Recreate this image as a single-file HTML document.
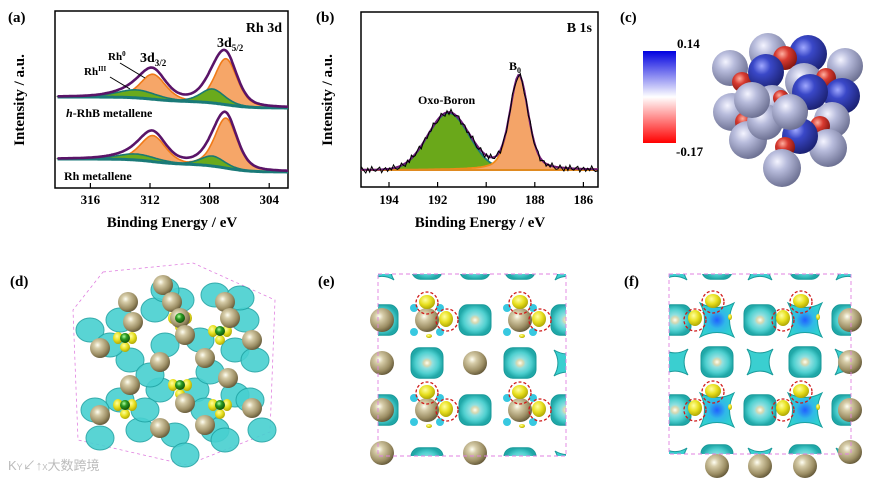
<!DOCTYPE html>
<html><head><meta charset="utf-8"><style>
html,body{margin:0;padding:0;background:#fff}
svg{display:block;font-family:"Liberation Serif",serif}
.b{font-weight:bold}
</style></head><body>
<svg id="s" width="872" height="479" viewBox="0 0 872 479" xmlns="http://www.w3.org/2000/svg">
<defs>
<radialGradient id="tan" cx="0.38" cy="0.35" r="0.7"><stop offset="0" stop-color="#fffff4"/><stop offset="0.25" stop-color="#d6cca8"/><stop offset="0.7" stop-color="#9c8e64"/><stop offset="1" stop-color="#5e5334"/></radialGradient>
<radialGradient id="lav" cx="0.38" cy="0.33" r="0.7"><stop offset="0" stop-color="#f4f4ff"/><stop offset="0.35" stop-color="#b8bcdc"/><stop offset="1" stop-color="#6a6e90"/></radialGradient>
<radialGradient id="blu" cx="0.38" cy="0.33" r="0.7"><stop offset="0" stop-color="#a0a8ff"/><stop offset="0.35" stop-color="#3a48c8"/><stop offset="1" stop-color="#1a2070"/></radialGradient>
<radialGradient id="red" cx="0.38" cy="0.33" r="0.7"><stop offset="0" stop-color="#ffb0a0"/><stop offset="0.4" stop-color="#d83a30"/><stop offset="1" stop-color="#801410"/></radialGradient>
<radialGradient id="grn" cx="0.4" cy="0.35" r="0.7"><stop offset="0" stop-color="#b0ffa0"/><stop offset="0.4" stop-color="#2a9a20"/><stop offset="1" stop-color="#0c4a08"/></radialGradient>
<radialGradient id="yel" cx="0.4" cy="0.35" r="0.7"><stop offset="0" stop-color="#ffffa0"/><stop offset="0.5" stop-color="#e8e020"/><stop offset="1" stop-color="#a8a000"/></radialGradient>
<radialGradient id="ring" cx="0.5" cy="0.5" r="0.5"><stop offset="0" stop-color="#fffff0"/><stop offset="0.2" stop-color="#d8d8b0"/><stop offset="0.35" stop-color="#90e0e0"/><stop offset="0.7" stop-color="#50d0d0"/><stop offset="1" stop-color="#20a8a8"/></radialGradient>
<radialGradient id="star" cx="0.5" cy="0.5" r="0.5"><stop offset="0" stop-color="#2060ff"/><stop offset="0.5" stop-color="#30b8e8"/><stop offset="1" stop-color="#30d0d0"/></radialGradient>
<linearGradient id="cbar" x1="0" y1="0" x2="0" y2="1"><stop offset="0" stop-color="#0000e0"/><stop offset="0.5" stop-color="#ffffff"/><stop offset="1" stop-color="#ff0000"/></linearGradient>
<clipPath id="clipE"><rect x="378" y="274" width="188" height="182"/></clipPath>
<clipPath id="clipF"><rect x="669" y="274" width="182" height="180"/></clipPath>
<clipPath id="clipA"><rect x="55" y="11" width="233" height="177"/></clipPath>
<clipPath id="clipB"><rect x="361" y="12" width="237" height="175"/></clipPath>
</defs>

<text x="8" y="22" class="b" font-size="15">(a)</text>
<text x="316" y="22" class="b" font-size="15">(b)</text>
<text x="620" y="22" class="b" font-size="15">(c)</text>
<text x="10" y="286" class="b" font-size="15">(d)</text>
<text x="318" y="286" class="b" font-size="15">(e)</text>
<text x="624" y="286" class="b" font-size="15">(f)</text>

<g id="pa">
<rect x="55" y="11" width="233" height="177" fill="none" stroke="#000" stroke-width="1.5"/>
<g id="paTicks"></g>
<g id="paPlot" clip-path="url(#clipA)"></g>
<text x="172" y="227" text-anchor="middle" class="b" font-size="15">Binding Energy / eV</text>
<text transform="translate(24,100) rotate(-90)" text-anchor="middle" class="b" font-size="15">Intensity / a.u.</text>
<text x="282" y="32" text-anchor="end" class="b" font-size="14">Rh 3d</text>
<text x="217" y="47" class="b" font-size="14">3d<tspan font-size="9" dy="4">5/2</tspan></text>
<text x="140" y="62" class="b" font-size="14">3d<tspan font-size="9" dy="4">3/2</tspan></text>
<text x="108" y="60" class="b" font-size="11">Rh<tspan font-size="7" dy="-4">0</tspan></text>
<text x="84" y="75" class="b" font-size="11">Rh<tspan font-size="7" dy="-4">III</tspan></text>
<line x1="120" y1="63" x2="145" y2="78" stroke="#000" stroke-width="1"/>
<line x1="110" y1="77" x2="130" y2="89" stroke="#000" stroke-width="1"/>
<text x="66" y="117" class="b" font-size="12"><tspan font-style="italic">h</tspan>-RhB metallene</text>
<text x="64" y="180" class="b" font-size="12">Rh metallene</text>
</g>

<g id="pb">
<rect x="361" y="12" width="237" height="175" fill="none" stroke="#000" stroke-width="1.5"/>
<g id="pbTicks"></g>
<g id="pbPlot" clip-path="url(#clipB)"></g>
<text x="480" y="227" text-anchor="middle" class="b" font-size="15">Binding Energy / eV</text>
<text transform="translate(332,100) rotate(-90)" text-anchor="middle" class="b" font-size="15">Intensity / a.u.</text>
<text x="592" y="32" text-anchor="end" class="b" font-size="14">B 1s</text>
<text x="418" y="104" class="b" font-size="12">Oxo-Boron</text>
<text x="509" y="70" class="b" font-size="12">B<tspan font-size="8" dy="3">0</tspan></text>
</g>

<g>
<rect x="643" y="51" width="33" height="92" fill="url(#cbar)"/>
<text x="677" y="48" class="b" font-size="13">0.14</text>
<text x="676" y="156" class="b" font-size="13">-0.17</text>
<g id="cluster"></g>
</g>

<g>
<polygon points="103,272 193,263 275,300 270,432 187,465 78,440 73,310" fill="none" stroke="#e080e0" stroke-width="0.8" stroke-dasharray="3,3"/>
<g id="pd"></g>
<text x="8" y="470" font-size="13" fill="#bbb" font-family="Liberation Sans,'Noto Sans CJK SC',sans-serif">K<tspan font-size="9">Y</tspan>↙↑<tspan font-size="8">X</tspan>大数跨境</text>
</g>

<g>
<g id="pe"></g>
<rect x="378" y="274" width="188" height="182" fill="none" stroke="#e080e0" stroke-width="0.9" stroke-dasharray="4,3"/>
</g>
<g>
<g id="pf"></g>
<rect x="669" y="274" width="182" height="180" fill="none" stroke="#e080e0" stroke-width="0.9" stroke-dasharray="4,3"/>
</g>
</svg>
<script>
const aTicks = [316, 312, 308, 304];
const aCenters = [306.9, 311.8, 307.8, 312.9];
const aWidths = [0.75, 0.85, 0.8, 1.3];
const aTopHeights = [46, 25, 14, 8];
const aBotHeights = [50, 26, 10, 6];
const aTopBase = [97, 108];
const aBotBase = [159, 172];
const bTicks = [194, 192, 190, 188, 186];
const bCenters = [191.55, 188.65];
const bWidths = [0.85, 0.38];
const bHeights = [57, 95];
const bBase = [170];
const bNoise = [2,-3,1,4,-2,3,-4,1,2,-1,-3,4,0,-2,3,-1,2,-4,1,3];

const S = document.getElementById('s');
const NS = 'http://www.w3.org/2000/svg';
function mk(tag, attrs, parent){const e=document.createElementNS(NS,tag);for(const k in attrs)e.setAttribute(k,attrs[k]);(parent||S).appendChild(e);return e;}

const ax = E => 150 + (312 - E) * 14.9;
const aE0 = 318.2, aE1 = 302.3;
const pa = document.getElementById('paPlot'), pat = document.getElementById('paTicks');
aTicks.forEach(t=>{
  const l=mk('line',{x1:ax(t),x2:ax(t),y1:188,y2:183,stroke:'#000','stroke-width':1.2},pat);
  
  const tx=mk('text',{x:ax(t),y:204,'text-anchor':'middle','font-size':13,'font-weight':'bold'},pat);
  tx.textContent=t;
  
});
function gau(E,c,w){return Math.exp(-0.5*((E-c)/w)**2);}
function voigt(E,c,w){return 0.6*gau(E,c,w)+0.4/(1+((E-c)/(w*1.2))**2);}
function sig(x){return 1/(1+Math.exp(-x));}
function drawA(heights, base){
  const N=240, pts=[];
  for(let i=0;i<=N;i++){pts.push(aE0+(aE1-aE0)*i/N);}
  const by = E => {
    const f = 0.6*sig((E-306.9)/0.8) + 0.4*sig((E-311.8)/0.8);
    return base[1] - (base[1]-base[0])*f;
  };
  const comp = (k,E)=>heights[k]*voigt(E,aCenters[k],aWidths[k]);
  [[0,1,'#f6a668','#f07a18','rh0-component'],[2,3,'#6aaa1c','#1a7a70','rhiii-component']].forEach(([k1,k2,fill,st,nm])=>{
    [k1,k2].forEach(k=>{
      let d='M'+ax(aE0)+','+by(aE0);
      pts.forEach(E=>{d+=' L'+ax(E).toFixed(1)+','+(by(E)-comp(k,E)).toFixed(1);});
      d+=' L'+ax(aE1)+','+by(aE1);
      pts.slice().reverse().forEach(E=>{d+=' L'+ax(E).toFixed(1)+','+by(E).toFixed(1);});
      const p=mk('path',{d:d+'Z',fill:fill,stroke:st,'stroke-width':1.6},pa);
      
    });
  });
  let d='',bl='';
  pts.forEach((E,i)=>{let s=0;for(let k=0;k<4;k++)s+=comp(k,E);
    d+=(i?' L':'M')+ax(E).toFixed(1)+','+(by(E)-s).toFixed(1);
    bl+=(i?' L':'M')+ax(E).toFixed(1)+','+by(E).toFixed(1);});
  const b=mk('path',{d:bl,fill:'none',stroke:'#1a7a78','stroke-width':3},pa);
  
  const e=mk('path',{d:d,fill:'none',stroke:'#5a1468','stroke-width':2.6},pa);
  
}
drawA(aTopHeights, aTopBase);
drawA(aBotHeights, aBotBase);

const bx = E => 389 + (194 - E) * 24.3;
const bE0 = 195.2, bE1 = 184.6;
const pb = document.getElementById('pbPlot'), pbt=document.getElementById('pbTicks');
bTicks.forEach(t=>{
  const l=mk('line',{x1:bx(t),x2:bx(t),y1:187,y2:182,stroke:'#000','stroke-width':1.2},pbt);
  
  const tx=mk('text',{x:bx(t),y:204,'text-anchor':'middle','font-size':13,'font-weight':'bold'},pbt);
  tx.textContent=t;
  
});
{
  const N=130, pts=[];for(let i=0;i<=N;i++)pts.push(bE0+(bE1-bE0)*i/N);
  const y0=bBase[0];
  const c0=E=>bHeights[0]*gau(E,bCenters[0],bWidths[0]);
  const c1=E=>bHeights[1]*voigt(E,bCenters[1],bWidths[1]);
  [[c0,'#6aa81a','#1a7a78','oxo-boron-component'],[c1,'#f4a468','#f08a18','b0-component']].forEach(([f,fill,st,nm])=>{
    let d='M'+bx(bE0)+','+y0;pts.forEach(E=>{d+=' L'+bx(E).toFixed(1)+','+(y0-f(E)).toFixed(1);});
    d+=' L'+bx(bE1)+','+y0+'Z';
    const p=mk('path',{d:d,fill:fill,stroke:st,'stroke-width':1.8},pb);
    
  });
  let raw='',env='';
  pts.forEach((E,i)=>{const s=c0(E)+c1(E);
    env+=(i?' L':'M')+bx(E).toFixed(1)+','+(y0-s).toFixed(1);
    raw+=(i?' L':'M')+bx(E).toFixed(1)+','+(y0-s+bNoise[i%bNoise.length]*0.8).toFixed(1);});
  const bl=mk('line',{x1:361,x2:598,y1:y0,y2:y0,stroke:'#e08a20','stroke-width':2},pb);
  
  const e=mk('path',{d:env,fill:'none',stroke:'#6a1a78','stroke-width':2},pb);
  
  const r=mk('path',{d:raw,fill:'none',stroke:'#000','stroke-width':1},pb);
  
}

const cl=document.getElementById('cluster');
const spheres=[
 [768,52,19,'lav'],[808,54,19,'blu'],[730,68,18,'lav'],[845,66,18,'lav'],
 [785,58,12,'red'],[742,82,10,'red'],[766,72,18,'blu'],[804,82,19,'lav'],[826,78,10,'red'],[842,96,18,'blu'],
 [732,112,19,'lav'],[832,120,18,'lav'],[796,110,12,'red'],[745,122,10,'red'],[820,126,10,'red'],
 [748,140,19,'lav'],[828,148,19,'lav'],[772,104,19,'lav'],[810,92,18,'blu'],
 [781,98,8,'red'],[765,122,18,'lav'],[800,136,18,'blu'],[785,147,10,'red'],[782,168,19,'lav'],[752,100,18,'lav'],[790,112,18,'lav']
];
spheres.forEach(s=>{const c=mk('circle',{cx:s[0],cy:s[1],r:s[2],fill:'url(#'+s[3]+')'},cl);
 });

function tan(g,x,y,r){const c=mk('circle',{cx:x,cy:y,r:r,fill:'url(#tan)'},g);
 }
function ring(g,x,y,r){const c=mk('rect',{x:x-r,y:y-r*0.95,width:2*r,height:1.9*r,rx:r*0.55,fill:'url(#ring)',stroke:'#1a9a9a','stroke-width':1},g);
 }
function star(g,x,y,r){const d=`M${x-r},${y-r} Q${x},${y-r*0.4} ${x+r},${y-r} Q${x+r*0.4},${y} ${x+r},${y+r} Q${x},${y+r*0.4} ${x-r},${y+r} Q${x-r*0.4},${y} ${x-r},${y-r}Z`;
 const p=mk('path',{d:d,fill:'#3acfd0',stroke:'#1a9a9a','stroke-width':1},g);
 }
function yel(g,x,y,rx,ry){const e=mk('ellipse',{cx:x,cy:y,rx:rx,ry:ry,fill:'url(#yel)'},g);
 }
function dash(g,x,y,r){const c=mk('circle',{cx:x,cy:y,r:r,fill:'none',stroke:'#d01818','stroke-width':1.3,'stroke-dasharray':'3,2'},g);
 }

const pe=document.getElementById('pe');
const ge=mk('g',{'clip-path':'url(#clipE)'},pe);
const eX=[382,427,475,520,567], eY=[280,320,363,410,453];
[427,475,520].forEach(x=>ring(ge,x,265,15)); star(ge,382,268,12); star(ge,567,268,12);
[1,3].forEach(r=>{ring(ge,eX[0],eY[r],16);ring(ge,eX[2],eY[r],16);ring(ge,eX[4],eY[r],16);});
[2].forEach(r=>{ring(ge,eX[1],eY[r],16);ring(ge,eX[3],eY[r],16);star(ge,eX[4],eY[r],13);});
ring(ge,eX[1],463,16);ring(ge,eX[3],463,16);star(ge,eX[4],463,12);
[1,3].forEach(r=>[eX[1],eX[3]].forEach(x=>{
  [[-13,-12],[13,-12],[-13,12],[13,12]].forEach(o=>{const c=mk('circle',{cx:x+o[0],cy:eY[r]+o[1],r:4,fill:'#38c8e0'},ge);});
}));
[363,453].forEach(y=>{tan(pe,eX[0],y,12);tan(pe,eX[2],y,12);});
[320,410].forEach(y=>{tan(pe,eX[0],y,12);});
[320,410].forEach(y=>[eX[1],eX[3]].forEach(x=>{
  tan(pe,x,y,12);
  yel(pe,x,y-18,8,7); yel(pe,x+19,y-1,7,8); yel(pe,x+2,y+16,3,2);
  dash(pe,x,y-17,11); dash(pe,x+20,y,11);
}));

const pf=document.getElementById('pf');
const gf=mk('g',{'clip-path':'url(#clipF)'},pf);
const fX=[675,717,760,805,848], fY=[280,320,362,410,452];
[717,805].forEach(x=>ring(gf,x,265,15)); [675,760,848].forEach(x=>star(gf,x,268,12));
[320,410].forEach(y=>{ring(gf,fX[0],y,16);ring(gf,fX[2],y,16);ring(gf,fX[4],y,16);
  [fX[1],fX[3]].forEach(x=>{
    const d=`M${x-17},${y-17} Q${x},${y-8} ${x+17},${y-17} Q${x+8},${y} ${x+17},${y+17} Q${x},${y+8} ${x-17},${y+17} Q${x-8},${y} ${x-17},${y-17}Z`;
    const p=mk('path',{d:d,fill:'url(#star)',stroke:'#1aa0a0','stroke-width':1},gf);
    
  });});
star(gf,fX[0],362,13);ring(gf,fX[1],362,16);star(gf,fX[2],362,13);ring(gf,fX[3],362,16);star(gf,fX[4],362,13);
[675,760,848].forEach(x=>star(gf,x,460,12));[717,805].forEach(x=>ring(gf,x,460,16));
[320,362,410,452].forEach(y=>tan(pf,fX[4]+2,y,12));
[717,760,805].forEach(x=>tan(pf,x,466,12));
[320,410].forEach(y=>[fX[1],fX[3]].forEach(x=>{
  yel(pf,x-4,y-19,8,7); yel(pf,x-22,y-2,7,8); yel(pf,x+13,y-3,2,3);
  dash(pf,x-4,y-18,11); dash(pf,x-22,y,11);
}));

const pd=document.getElementById('pd');
const dBlobs=[[120,320],[155,310],[180,300],[215,295],[245,320],[130,360],[165,345],[200,340],[235,350],[120,400],[160,390],[195,390],[235,395],[140,430],[175,435],[215,430],[185,455],[90,330],[255,360],[95,410],[150,375],[210,372],[110,345],[250,400],[165,290],[225,440],[145,410],[205,410],[240,298],[100,438],[262,430]];
dBlobs.forEach(b=>{const e=mk('ellipse',{cx:b[0],cy:b[1],rx:14,ry:12,fill:'#48d0d0',stroke:'#20a4a4','stroke-width':1,opacity:0.9},pd);
 });
const dY=[[125,338],[180,318],[220,331],[125,405],[180,385],[220,405]];
dY.forEach(p=>{yel(pd,p[0]-7,p[1],5,6);yel(pd,p[0]+7,p[1],5,6);yel(pd,p[0],p[1]+9,5,5);});
const dT=[[163,285],[172,302],[128,302],[133,322],[225,302],[230,318],[180,318],[185,335],[100,348],[160,362],[205,358],[252,340],[130,385],[185,403],[228,378],[100,415],[160,428],[205,425],[252,408]];
dT.forEach(p=>tan(pd,p[0],p[1],10));
dY.forEach(p=>{const c=mk('circle',{cx:p[0],cy:p[1],r:5,fill:'url(#grn)'},pd);});
</script>
</body></html>
